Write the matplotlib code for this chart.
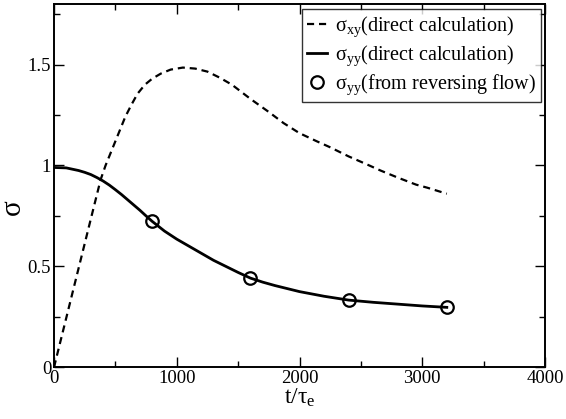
import matplotlib
matplotlib.use("Agg")
import matplotlib.pyplot as plt
from matplotlib.ticker import MultipleLocator

plt.rcParams['font.family'] = ['Liberation Serif', 'DejaVu Serif']
plt.rcParams['mathtext.fontset'] = 'custom'
plt.rcParams['mathtext.rm'] = 'Liberation Serif'
plt.rcParams['mathtext.it'] = 'Liberation Serif:italic'

# sigma_xy (direct calculation)
t_xy = [0, 100, 200, 300, 380, 420, 460, 500, 540, 580, 630, 680, 740, 800, 870,
        950, 1050, 1150, 1250, 1350, 1450, 1600, 1750, 1870, 2000, 2140, 2250,
        2400, 2550, 2660, 2800, 2950, 3040, 3200]
s_xy = [0, 0.245, 0.49, 0.735, 0.93, 1.00, 1.06, 1.12, 1.18, 1.24, 1.30, 1.355,
        1.40, 1.43, 1.455, 1.475, 1.485, 1.48, 1.465, 1.435, 1.40, 1.33, 1.265,
        1.21, 1.16, 1.12, 1.09, 1.045, 1.005, 0.975, 0.94, 0.905, 0.89, 0.86]

# sigma_yy (direct calculation)
t_yy = [0, 100, 200, 250, 300, 350, 400, 450, 500, 550, 600, 650, 700, 750, 800,
        900, 1000, 1100, 1200, 1300, 1400, 1500, 1600, 1700, 1800, 1900, 2000,
        2200, 2400, 2600, 2800, 3000, 3200]
s_yy = [0.99, 0.988, 0.975, 0.966, 0.955, 0.94, 0.923, 0.903, 0.88, 0.856, 0.83,
        0.804, 0.778, 0.75, 0.723, 0.675, 0.635, 0.60, 0.565, 0.53, 0.50, 0.47,
        0.442, 0.422, 0.405, 0.39, 0.375, 0.352, 0.333, 0.322, 0.313, 0.304, 0.297]

# sigma_yy (from reversing flow)
t_rev = [800, 1600, 2400, 3200]
s_rev = [0.723, 0.442, 0.333, 0.297]

fig = plt.figure(figsize=(5.66, 4.19), dpi=100)
ax = fig.add_axes([54/566, 1-367.3/419, (545-54)/566, (367.3-4)/419])

ax.plot(t_xy, s_xy, color='black', lw=1.6, ls=(0, (3.2, 2.2)),
        label='σ$_{\\rm xy}$(direct calculation)')
ax.plot(t_yy, s_yy, color='black', lw=2.0, ls='-',
        label='σ$_{\\rm yy}$(direct calculation)')
ax.plot(t_rev, s_rev, ls='none', marker='o', ms=9, mfc='none', mec='black',
        mew=1.6, label='σ$_{\\rm yy}$(from reversing flow)')

ax.set_xlim(0, 4000)
ax.set_ylim(0, 1.8)
ax.set_xticks([0, 1000, 2000, 3000, 4000])
ax.set_xticklabels(['0', '1000', '2000', '3000', '4000'])
ax.set_yticks([0, 0.5, 1, 1.5])
ax.set_yticklabels(['0', '0.5', '1', '1.5'])
ax.xaxis.set_minor_locator(MultipleLocator(500))
ax.yaxis.set_minor_locator(MultipleLocator(0.25))
ax.tick_params(which='both', direction='in', top=True, right=True,
               labelsize=13.5, width=1.0)
ax.tick_params(which='major', length=7, pad=2)
ax.tick_params(which='minor', length=4)
for sp in ax.spines.values():
    sp.set_linewidth(1.4)

ax.set_xlabel('t/τ$_{\\rm e}$', fontsize=17, labelpad=0)
ax.set_ylabel('σ', fontsize=21)
ax.yaxis.set_label_coords(-0.058, 0.44)

leg = ax.legend(loc='upper right', bbox_to_anchor=(0.9925, 0.985), fontsize=14.5,
                frameon=True, fancybox=False, edgecolor='black',
                handlelength=1.0, handletextpad=0.4, borderpad=0.25,
                labelspacing=0.22, borderaxespad=0.0)
leg.get_frame().set_linewidth(1.0)

fig.savefig('out.png', dpi=100)
